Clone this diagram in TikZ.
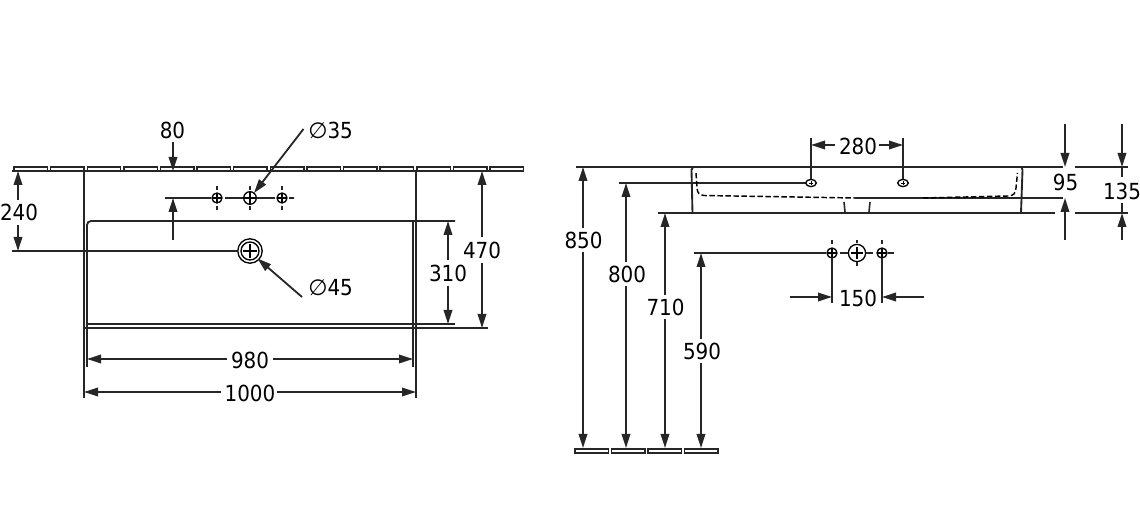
\documentclass[tikz,border=0pt]{standalone}
\usepackage{fontspec}
\setmainfont{DejaVu Sans Condensed}
\newfontfamily\symfont{DejaVu Sans}
\usetikzlibrary{arrows.meta}
\tikzset{
  ln/.style={line width=1.4pt,black!85},
  thin ln/.style={line width=1pt,black},
  dim/.style={line width=1.35pt,black!85,-{Stealth[length=10.5pt,width=6.4pt,inset=0pt]}},
  lbl/.style={inner sep=0pt,font=\fontsize{16.6}{17}\selectfont,text=black},
  tile/.style={line width=1.1pt,draw=black!85,fill=white},
  tick/.style={line width=1.2pt,black!85}
}
\newcommand{\holeplan}[4]{% x y radius crossradius
  \draw[thin ln] (#1,#2) circle[radius=#3];
  \draw[line width=0.8pt] (#1-#4,#2) -- (#1+#4,#2) (#1,#2-#4) -- (#1,#2+#4);
}
\begin{document}
\begin{tikzpicture}[x=0.75pt,y=-0.75pt]
\useasboundingbox (0,0) rectangle (1140,513);
% --- left view: wall tiles
\foreach \i in {0,...,13} {
  \draw[tile] ({14+\i*36.62},167) rectangle ({47.5+\i*36.62},171);
}
\draw[ln] (12,171) -- (522,171);
% outer and inner body
\draw[ln] (84,171) -- (84,398);
\draw[ln] (416,171) -- (416,398);
\draw[ln,rounded corners=3] (87,367) -- (87,221) -- (455,221);
\draw[ln] (413,221) -- (413,367);
\draw[ln] (87,324) -- (455,324);
\draw[ln] (84,328) -- (488,328);
% tap holes
\holeplan{217}{198}{5}{5}
\holeplan{250}{198}{6.3}{6}
\holeplan{282}{198}{5}{5}
\draw[ln] (165,198) -- (211,198) (225,198) -- (243,198) (257,198) -- (275,198) (289,198) -- (294,198);
\foreach \x in {217,250,282} {
  \draw[tick] (\x,186) -- (\x,190) (\x,206) -- (\x,210);
}
% waste
\draw[thin ln] (250,251) circle[radius=12.2];
\draw[thin ln] (250,251) circle[radius=9];
\draw[line width=0.9pt] (243,251) -- (257,251) (250,244) -- (250,258);
\draw[ln] (12,251) -- (238,251);
% left dims
\node[lbl] (t80) at (172.5,130) {80};
\draw[dim] (173,142) -- (173,171);
\draw[dim] (173,240) -- (173,198);
\node[lbl] (t240) at (19,212) {240};
\draw[dim] (18,200) -- (18,171);
\draw[dim] (18,225) -- (18,251);
\node[lbl] (t310) at (448,273) {310};
\draw[dim] (448,260) -- (448,221);
\draw[dim] (448,286) -- (448,324);
\node[lbl] (t470) at (482,250) {470};
\draw[dim] (482,237) -- (482,171);
\draw[dim] (482,263) -- (482,328);
\node[lbl] (t980) at (250,360) {980};
\draw[dim] (227,359) -- (87,359);
\draw[dim] (273,359) -- (413,359);
\node[lbl] (t1000) at (250,393) {1000};
\draw[dim] (221,392) -- (84,392);
\draw[dim] (277,392) -- (416,392);
\node[lbl,anchor=west] (t35) at (308,130) {{\symfont ∅}35};
\draw[dim] (303.5,129) -- (254,193);
\node[lbl,anchor=west] (t45) at (308,288) {{\symfont ∅}45};
\draw[dim] (302,297) -- (257.5,258.5);
% --- right view
\draw[ln] (576,167) -- (1063,167) (1075,167) -- (1128,167);
\draw[ln] (855,198) -- (1063,198);
\draw[ln] (658,213) -- (1055,213) (1075,213) -- (1128,213);
\draw[ln] (619,183) -- (806,183);
\draw[ln] (692.5,213) -- (691.5,170) -- (693,167);
\draw[ln] (1021,213) -- (1022.5,170) -- (1021.5,167);
\draw[line width=1.1pt,dash pattern=on 4pt off 2pt] (696,173) -- (697,188) .. controls (697.5,193) and (699,195) .. (704,195.5) -- (855,198);
\draw[line width=1.1pt,dash pattern=on 4pt off 2pt] (923,198) -- (1008,196) .. controls (1014,195.5) and (1015,194) .. (1016,188) -- (1017.5,173);
\draw[tick] (844,202) -- (845,212) (870,202) -- (869,212);
\foreach \x in {811,903} {
  \draw[thin ln,fill=white] (\x,183) ellipse[x radius=5.3,y radius=3.6];
  \draw[line width=0.6pt] (\x-2,183) -- (\x+2,183) (\x,181) -- (\x,185);
}
\draw[ln] (811,138) -- (811,179.5) (903,138) -- (903,179.5);
\node[lbl] (t280) at (858,146) {280};
\draw[dim] (835,145) -- (811,145);
\draw[dim] (879,145) -- (903,145);
\node[lbl] (t95) at (1065.5,182) {95};
\draw[dim] (1065,124) -- (1065,167);
\draw[dim] (1065,240) -- (1065,198);
\node[lbl] (t135) at (1122,191) {135};
\draw[dim] (1122,124) -- (1122,167);
\draw[ln] (1122,167) -- (1122,177) (1122,203) -- (1122,213);
\draw[dim] (1122,240) -- (1122,213);
% vertical dims
\node[lbl] (t850) at (583.5,240) {850};
\draw[dim] (583,228) -- (583,167);
\draw[dim] (583,252) -- (583,448);
\node[lbl] (t800) at (627,274) {800};
\draw[dim] (626,262) -- (626,183);
\draw[dim] (626,286) -- (626,448);
\node[lbl] (t710) at (665.5,307) {710};
\draw[dim] (665,295) -- (665,213);
\draw[dim] (665,319) -- (665,448);
\node[lbl] (t590) at (702,351) {590};
\draw[dim] (701,339) -- (701,253);
\draw[dim] (701,363) -- (701,448);
\foreach \x in {575,611.5,648,684.5} {
  \draw[tile] (\x,449) rectangle (\x+33.5,453);
}
% lower tap holes
\holeplan{832}{253}{5}{5}
\holeplan{857}{253}{8.6}{6}
\holeplan{882}{253}{5}{5}
\draw[ln] (694,253) -- (826,253) (840,253) -- (848,253) (866,253) -- (873,253) (888,253) -- (894,253);
\draw[tick] (832,240) -- (832,244) (857,240) -- (857,243.5) (857,262) -- (857,266) (882,240) -- (882,244);
\draw[ln] (832,258) -- (832,303) (882,258) -- (882,303);
\node[lbl] (t150) at (858,298) {150};
\draw[dim] (790,297) -- (832,297);
\draw[dim] (924,297) -- (882,297);
\end{tikzpicture}
\end{document}
